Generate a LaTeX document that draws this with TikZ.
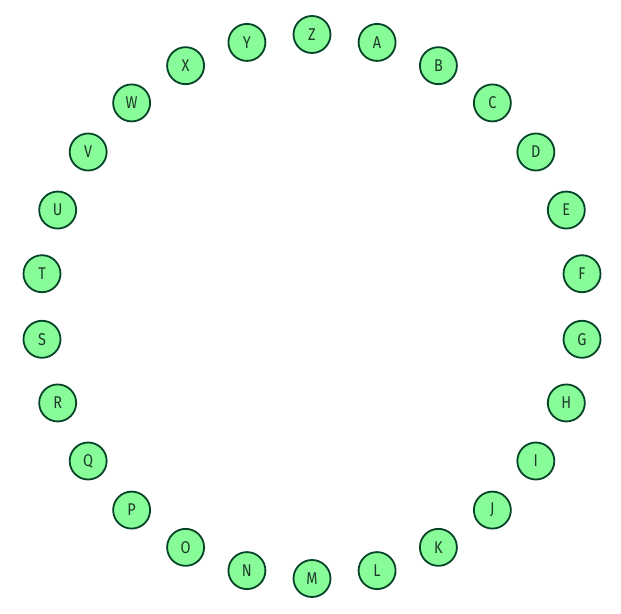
\documentclass[tikz,border=0pt]{standalone}
\usepackage{fontspec}
\setmainfont{Fira Sans}[FakeStretch=0.85]
\definecolor{nodefill}{HTML}{88FC98}
\definecolor{nodeline}{HTML}{064428}
\definecolor{nodetext}{HTML}{1E3A2A}
\tikzset{letter/.style={circle, draw=nodeline, fill=nodefill, line width=1.8pt, minimum size=37pt, inner sep=0pt, text=nodetext, font=\fontsize{17}{17}\selectfont}}
\begin{document}
\begin{tikzpicture}[x=1pt,y=-1pt]
\useasboundingbox (0,0) rectangle (621,613);
\foreach \l [count=\i] in {A,B,C,D,E,F,G,H,I,J,K,L,M,N,O,P,Q,R,S,T,U,V,W,X,Y,Z} {
  \pgfmathsetmacro{\ang}{90-\i*360/26}
  \node[letter] (n\l) at ({312+272*cos(\ang)},{306.5-272*sin(\ang)}) {\l};
}
\end{tikzpicture}
\end{document}
